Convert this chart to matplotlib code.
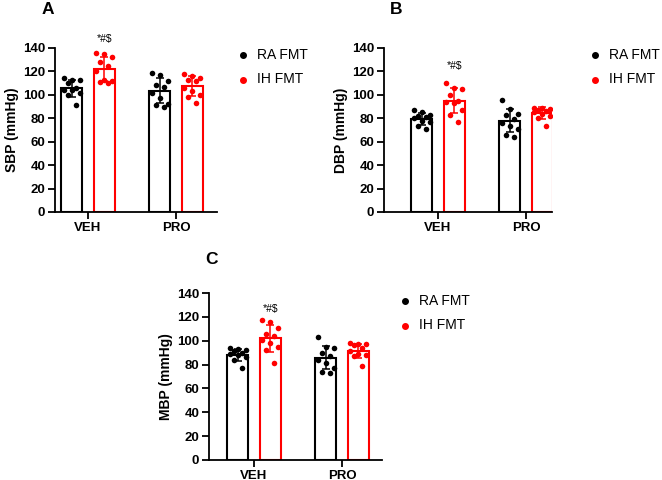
import matplotlib.pyplot as plt
import numpy as np

plt.rcParams['font.family'] = ['Liberation Sans', 'DejaVu Sans']

groups = ['VEH', 'PRO']
series = ['RA FMT', 'IH FMT']
colors = {'RA FMT': 'black', 'IH FMT': '#ff0000'}

# individual animals (mmHg)
sbp_ra_veh = [114, 113, 113, 110, 106, 104, 104, 102, 100, 91]
sbp_ih_veh = [136, 135, 132, 128, 125, 120, 113, 112, 111, 110]
sbp_ra_pro = [119, 117, 112, 108, 107, 102, 97, 92, 91, 90]
sbp_ih_pro = [118, 116, 114, 113, 112, 106, 103, 100, 98, 93]

dbp_ra_veh = [87, 85, 83, 82, 81, 80, 78, 77, 73, 71]
dbp_ih_veh = [110, 106, 105, 100, 95, 94, 93, 87, 83, 77]
dbp_ra_pro = [96, 88, 84, 83, 79, 76, 73, 71, 66, 64]
dbp_ih_pro = [89, 89, 88, 87, 86, 85, 84, 82, 80, 73]

mbp_ra_veh = [94, 93, 92, 91, 90, 89, 88, 86, 84, 77]
mbp_ih_veh = [117, 116, 111, 106, 104, 101, 98, 95, 92, 81]
mbp_ra_pro = [103, 95, 94, 90, 87, 84, 81, 77, 74, 73]
mbp_ih_pro = [98, 97, 97, 96, 94, 91, 89, 88, 87, 79]

panels = [
    dict(letter='A', ylabel='SBP (mmHg)', sig_y=148,
         data={'RA FMT': [sbp_ra_veh, sbp_ra_pro], 'IH FMT': [sbp_ih_veh, sbp_ih_pro]},
         px=(55, 217, 88), py=(48, 212), leg=(236, 68), let=(42, 9)),
    dict(letter='B', ylabel='DBP (mmHg)', sig_y=125,
         data={'RA FMT': [dbp_ra_veh, dbp_ra_pro], 'IH FMT': [dbp_ih_veh, dbp_ih_pro]},
         px=(384, 552, 438), py=(48, 212), leg=(588, 68), let=(390, 9)),
    dict(letter='C', ylabel='MBP (mmHg)', sig_y=127,
         data={'RA FMT': [mbp_ra_veh, mbp_ra_pro], 'IH FMT': [mbp_ih_veh, mbp_ih_pro]},
         px=(209, 382, 254), py=(293, 460), leg=(398, 314), let=(205, 260)),
]

W, H = 662, 480
unit = 88.0     # px between the two group centres
off = 0.185     # bar offset from group centre
bw = 0.24
jit = [-0.09, 0.0, 0.09, -0.045, 0.045, -0.09, 0.0, 0.09, -0.045, 0.045]

fig = plt.figure(figsize=(W / 100, H / 100), dpi=100)

for p in panels:
    left, right, c = p['px']
    top, bottom = p['py']
    ax = fig.add_axes([left / W, 1 - bottom / H, (right - left) / W, (bottom - top) / H])
    x = np.arange(len(groups))
    for k, s in enumerate(series):
        col = colors[s]
        xs = x + (-off if k == 0 else off)
        for g, vals in enumerate(p['data'][s]):
            vals = np.array(vals, dtype=float)
            m, sd = vals.mean(), vals.std(ddof=1)
            ax.bar(xs[g], m, width=bw, facecolor='white', edgecolor=col, linewidth=1.5, zorder=1)
            ax.scatter(xs[g] + np.array(jit[:len(vals)]), vals, s=16, color=col, zorder=3, linewidths=0)
            ax.errorbar(xs[g], m, yerr=sd, color=col, capsize=3, elinewidth=1.1, capthick=1.1, zorder=4)
        ax.scatter([], [], s=16, color=col, label=s)
    ax.text(x[0] + off, p['sig_y'], '*#$', ha='center', va='center', fontsize=7.5, clip_on=False)

    ax.set_xlim((left - c) / unit, (right - c) / unit)
    ax.set_ylim(0, 140)
    ax.set_yticks(np.arange(0, 141, 20))
    ax.set_xticks(x)
    ax.set_xticklabels(groups)
    for lab in ax.get_xticklabels() + ax.get_yticklabels():
        lab.set_fontweight('bold')
    ax.tick_params(labelsize=9.5, width=1.3, length=5, pad=2)
    ax.set_ylabel(p['ylabel'], fontsize=10, fontweight='bold', labelpad=3)
    ax.spines['top'].set_visible(False)
    ax.spines['right'].set_visible(False)
    for sp in ['left', 'bottom']:
        ax.spines[sp].set_linewidth(1.3)

    lx0, ly0 = p['let']
    fig.text(lx0 / W, 1 - ly0 / H, p['letter'], fontsize=12.5, fontweight='bold', va='center')
    lx, ly = p['leg']
    ax.legend(loc='upper left', bbox_to_anchor=(lx / W, 1 - (ly - 20) / H), bbox_transform=fig.transFigure,
              frameon=False, fontsize=10, handletextpad=0.5, labelspacing=0.75, handlelength=1.0,
              borderpad=0, borderaxespad=0)

fig.savefig('out.png', dpi=100)
